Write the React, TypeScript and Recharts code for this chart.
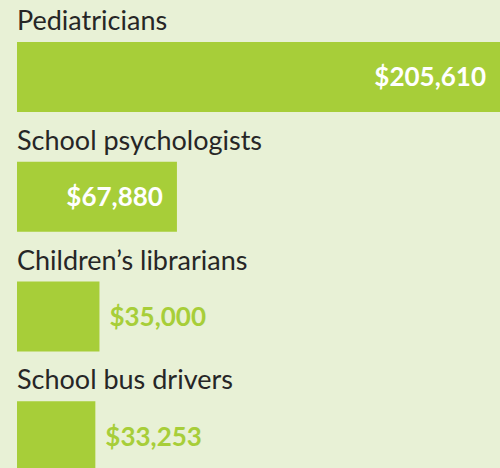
import { BarChart, Bar, XAxis, YAxis, LabelList } from 'recharts';

const jobs = ['Pediatricians', 'School psychologists', 'Children\u2019s librarians', 'School bus drivers'];
const salaries = [205610, 67880, 35000, 33253];

const BG = '#e8f1d6';
const GREEN = '#a7ce39';
const FONT = 'Lato, "Open Sans", sans-serif';
const CHART_W = 500;

const data = jobs.map((name, i) => ({ name, salary: salaries[i] }));

function fmtMoney(v: number) {
  return '$' + v.toLocaleString('en-US');
}

// category title sits just above each bar
function NameLabel(props: any) {
  const { x, y, value } = props;
  return (
    <text x={x} y={Number(y) - 12} fill="#262626" fontSize={27} fontFamily={FONT}>
      {value}
    </text>
  );
}

// value goes inside (white) when the bar is wide enough, else after it (green)
function ValueLabel(props: any) {
  const { x, y, width, height, value } = props;
  const end = Math.min(Number(x) + Number(width), CHART_W);
  const inside = Number(width) > 140;
  const cy = Number(y) + Number(height) / 2;
  return (
    <text
      x={inside ? end - 14 : end + 10}
      y={cy}
      dy="0.36em"
      textAnchor={inside ? 'end' : 'start'}
      fill={inside ? '#ffffff' : GREEN}
      fontSize={26}
      fontWeight={700}
      fontFamily={FONT}
    >
      {fmtMoney(Number(value))}
    </text>
  );
}

export default function App() {
  return (
    <div
      style={{
        position: 'fixed',
        left: 0,
        top: 0,
        width: 500,
        height: 468,
        overflow: 'hidden',
        background: BG,
      }}
    >
      <BarChart
        width={CHART_W}
        height={500}
        data={data}
        layout="vertical"
        margin={{ top: 17, right: 0, left: 17, bottom: 4 }}
      >
        <XAxis type="number" hide domain={[0, 205000]} allowDataOverflow />
        <YAxis type="category" dataKey="name" hide />
        <Bar dataKey="salary" fill={GREEN} barSize={70} isAnimationActive={false}>
          <LabelList dataKey="name" content={NameLabel} />
          <LabelList dataKey="salary" content={ValueLabel} />
        </Bar>
      </BarChart>
    </div>
  );
}
